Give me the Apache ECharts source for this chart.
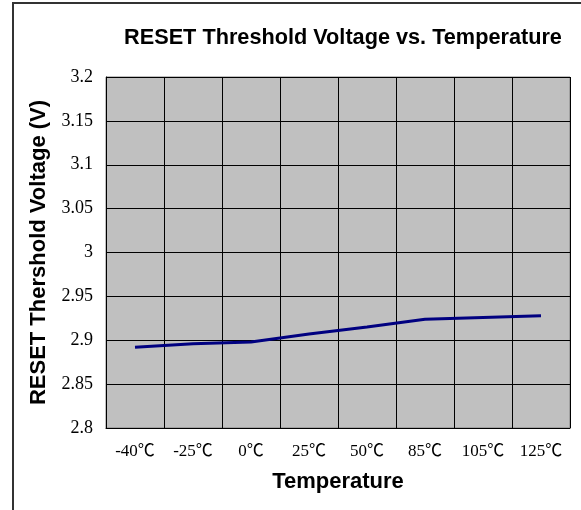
<!DOCTYPE html>
<html>
<head>
<meta charset="utf-8">
<script src="https://cdn.jsdelivr.net/npm/echarts@6/dist/echarts.min.js"></script>
<style>
  html, body { margin: 0; padding: 0; background: #fff; }
  #main { width: 581px; height: 510px; }
</style>
</head>
<body>
<div id="main"></div>
<script>
var temps = ['-40℃', '-25℃', '0℃', '25℃', '50℃', '85℃', '105℃', '125℃'];
var voltage = [2.892, 2.896, 2.898, 2.907, 2.915, 2.924, 2.926, 2.928];
var yMin = 2.8, yMax = 3.2, yStep = 0.05;

var myChart = echarts.init(document.getElementById('main'));

var option = {
    backgroundColor: '#fff',
    animation: false,
    title: {
        text: 'RESET Threshold Voltage vs. Temperature',
        left: 338,
        top: 22,
        textAlign: 'center',
        textStyle: {
            fontFamily: 'Liberation Sans',
            fontWeight: 'bold',
            fontSize: 21.7,
            color: '#000'
        }
    },
    graphic: [
        {
            type: 'polyline',
            shape: { points: [[13, 520], [13, 3], [590, 3]] },
            style: { stroke: '#333', lineWidth: 2, fill: null }
        }
    ],
    grid: {
        left: 106,
        right: 11,
        top: 77,
        bottom: 82,
        show: true,
        backgroundColor: '#c0c0c0',
        borderColor: '#808080',
        borderWidth: 1
    },
    xAxis: {
        type: 'category',
        data: temps,
        boundaryGap: true,
        name: 'Temperature',
        nameLocation: 'middle',
        nameGap: 43,
        nameTextStyle: {
            fontFamily: 'Liberation Sans',
            fontWeight: 'bold',
            fontSize: 22,
            color: '#000'
        },
        axisLine: { lineStyle: { color: '#000', width: 1 } },
        axisTick: { show: false },
        axisLabel: {
            margin: 15,
            fontFamily: 'Liberation Serif, Noto Sans CJK SC',
            fontSize: 17,
            color: '#000'
        },
        splitLine: { show: true, interval: 0, lineStyle: { color: '#000', width: 1 } }
    },
    yAxis: {
        type: 'value',
        min: yMin,
        max: yMax,
        interval: yStep,
        name: 'RESET Thershold Voltage (V)',
        nameLocation: 'middle',
        nameGap: 56,
        nameTextStyle: {
            fontFamily: 'Liberation Sans',
            fontWeight: 'bold',
            fontSize: 22,
            color: '#000'
        },
        axisLine: { show: true, lineStyle: { color: '#000', width: 1 } },
        axisTick: { show: false },
        axisLabel: {
            margin: 13,
            fontFamily: 'Liberation Serif',
            fontSize: 18,
            color: '#000',
            formatter: function (v) { return String(Math.round(v * 100) / 100); }
        },
        splitLine: { show: true, lineStyle: { color: '#000', width: 1 } }
    },
    series: [
        {
            type: 'line',
            data: voltage,
            symbol: 'none',
            lineStyle: { color: '#000080', width: 3 }
        }
    ]
};

myChart.setOption(option, true);
window.onresize = myChart.resize;
</script>
</body>
</html>
